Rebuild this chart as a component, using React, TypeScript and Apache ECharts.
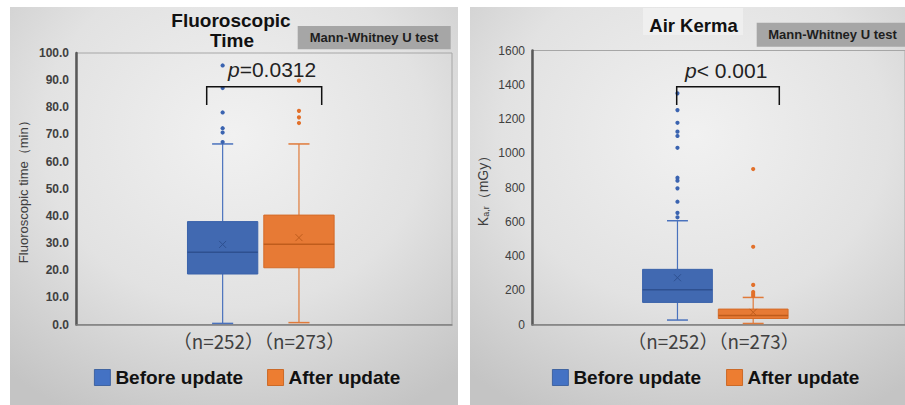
import React, { useEffect, useRef } from 'react';
import * as echarts from 'echarts';

// ---------- data ----------
const CATEGORIES = ['（n=252）（n=273）'];
const GROUPS = ['Before update', 'After update'];

// box stats: [min, Q1, median, Q3, max, mean]
const fluoroBefore = [0.4, 18.6, 26.6, 37.9, 66.5, 29.5];
const fluoroAfter = [0.7, 20.9, 29.6, 40.3, 66.5, 32.0];
const fluoroBeforeOutliers = [67.2, 70.7, 72.3, 78.1, 87.1, 95.4];
const fluoroAfterOutliers = [74.2, 76.3, 78.7, 89.8];

const kermaBefore = [26, 129, 203, 322, 606, 273];
const kermaAfter = [6, 35, 52, 90, 158, 71];
const kermaBeforeOutliers = [626, 652, 717, 795, 840, 857, 1032, 1101, 1126, 1178, 1252, 1350];
const kermaAfterOutliers = [167, 178, 190, 231, 454, 908];

const FLUORO_AXIS = { min: 0, max: 100, interval: 10 };
const KERMA_AXIS = { min: 0, max: 1600, interval: 200 };

const P_LEFT = '0.0312';
const P_RIGHT = '< 0.001';

// ---------- style ----------
const BOX_W = 0.187; // fraction of category band
const CAP_RATIO = 0.3;
const OFFSETS = [-0.11, 0.093];

const PAL = [
  { fill: '#4169B1', edge: '#3a62aa', dark: '#2E5090', whisker: '#4a72bd', dot: '#3a63b0', legend: '#4472C4', legendEdge: '#2f5597' },
  { fill: '#E77A35', edge: '#d46b29', dark: '#bf5c1c', whisker: '#e07a3a', dot: '#e2702a', legend: '#ED7D31', legendEdge: '#c55a11' },
];

function boxSeries(name: string, grid: number, stats: number[], idx: number) {
  const pal = PAL[idx];
  const off = OFFSETS[idx];
  return {
    type: 'custom',
    name,
    xAxisIndex: grid,
    yAxisIndex: grid,
    itemStyle: { color: pal.legend },
    encode: { x: 0, y: [1, 2, 3, 4, 5, 6] },
    data: [[CATEGORIES[0], ...stats]],
    z: 3,
    renderItem: (params: any, api: any) => {
      const band = params.coordSys.width / CATEGORIES.length;
      const cat = api.value(0);
      const cx = api.coord([cat, 0])[0] + band * off;
      const half = (band * BOX_W) / 2;
      const cap = half * CAP_RATIO;
      const y = (i: number) => api.coord([cat, api.value(i)])[1];
      const yMin = y(1), yQ1 = y(2), yMed = y(3), yQ3 = y(4), yMax = y(5), yMean = y(6);
      const ws = { stroke: pal.whisker, lineWidth: 1.2 };
      const m = 3.5;
      return {
        type: 'group',
        children: [
          { type: 'line', shape: { x1: cx, y1: yMax, x2: cx, y2: yQ3 }, style: ws },
          { type: 'line', shape: { x1: cx, y1: yQ1, x2: cx, y2: yMin }, style: ws },
          { type: 'line', shape: { x1: cx - cap, y1: yMax, x2: cx + cap, y2: yMax }, style: { stroke: pal.whisker, lineWidth: 1.5 } },
          { type: 'line', shape: { x1: cx - cap, y1: yMin, x2: cx + cap, y2: yMin }, style: { stroke: pal.whisker, lineWidth: 1.5 } },
          { type: 'rect', shape: { x: cx - half, y: yQ3, width: half * 2, height: yQ1 - yQ3 }, style: { fill: pal.fill, stroke: pal.edge, lineWidth: 1 } },
          { type: 'line', shape: { x1: cx - half, y1: yMed, x2: cx + half, y2: yMed }, style: { stroke: pal.dark, lineWidth: 1.5 } },
          { type: 'line', shape: { x1: cx - m, y1: yMean - m, x2: cx + m, y2: yMean + m }, style: { stroke: pal.dark, lineWidth: 1 } },
          { type: 'line', shape: { x1: cx - m, y1: yMean + m, x2: cx + m, y2: yMean - m }, style: { stroke: pal.dark, lineWidth: 1 } },
        ],
      };
    },
  };
}

function outlierSeries(name: string, grid: number, values: number[], idx: number) {
  const pal = PAL[idx];
  const off = OFFSETS[idx];
  return {
    type: 'custom',
    name,
    xAxisIndex: grid,
    yAxisIndex: grid,
    itemStyle: { color: pal.legend },
    encode: { x: 0, y: 1 },
    data: values.map((v) => [CATEGORIES[0], v]),
    z: 4,
    renderItem: (params: any, api: any) => {
      const band = params.coordSys.width / CATEGORIES.length;
      const p = api.coord([api.value(0), api.value(1)]);
      return {
        type: 'circle',
        shape: { cx: p[0] + band * off, cy: p[1], r: 2.1 },
        style: { fill: pal.dot },
      };
    },
  };
}

const FONT = "'Liberation Sans', Arial, sans-serif";

function xAxisCfg(grid: number) {
  return {
    gridIndex: grid,
    type: 'category',
    data: CATEGORIES,
    axisLine: { lineStyle: { color: '#7f7f7f', width: 1.5 } },
    axisTick: { show: false },
    axisLabel: { fontSize: 18.8, color: '#404040', fontFamily: "'Noto Sans CJK JP', sans-serif", margin: 7, padding: [0, 10, 0, 0] },
  };
}

export default function App() {
  const ref = useRef<HTMLDivElement>(null);
  useEffect(() => {
    if (!ref.current) return;
    const chart = echarts.init(ref.current, null, { renderer: 'svg' });
    const panelFill = () =>
      new echarts.graphic.RadialGradient(0.5, 0.32, 0.78, [
        { offset: 0, color: '#f1f1f1' },
        { offset: 0.55, color: '#e2e2e2' },
        { offset: 1, color: '#c4c4c4' },
      ]);
    const option: any = {
      animation: false,
      backgroundColor: '#ffffff',
      grid: [
        { left: 76, top: 53, width: 376, height: 271.5, show: true, borderColor: '#a6a6a6', borderWidth: 1, backgroundColor: 'transparent' },
        { left: 532, top: 50.5, width: 380, height: 274, show: true, borderColor: '#a6a6a6', borderWidth: 1, backgroundColor: 'transparent' },
      ],
      xAxis: [xAxisCfg(0), xAxisCfg(1)],
      yAxis: [
        {
          gridIndex: 0,
          type: 'value',
          ...FLUORO_AXIS,
          axisLine: { show: true, lineStyle: { color: '#595959', width: 2.5 } },
          axisTick: { show: false },
          splitLine: { show: false },
          axisLabel: { formatter: (v: number) => v.toFixed(1), fontSize: 12, fontWeight: 'bold', color: '#404040', margin: 7, fontFamily: FONT },
          name: 'Fluoroscopic time（min）',
          nameLocation: 'middle',
          nameGap: 46,
          nameTextStyle: { fontSize: 13, color: '#404040', fontFamily: FONT },
        },
        {
          gridIndex: 1,
          type: 'value',
          ...KERMA_AXIS,
          axisLine: { show: true, lineStyle: { color: '#595959', width: 2.5 } },
          axisTick: { show: false },
          splitLine: { show: false },
          axisLabel: { formatter: (v: number) => String(v), fontSize: 12, color: '#404040', margin: 7, fontFamily: FONT },
          name: 'K{sub|a,r}（mGy）',
          nameLocation: 'middle',
          nameGap: 42,
          nameTextStyle: {
            fontSize: 14,
            color: '#404040',
            fontFamily: FONT,
            rich: { sub: { fontSize: 9, color: '#404040', fontFamily: FONT, verticalAlign: 'bottom', padding: [6, 0, 0, 0] } },
          },
        },
      ],
      legend: [0, 1].map((g) => ({
        left: g === 0 ? 89 : 547,
        top: 363,
        itemWidth: 16,
        itemHeight: 16,
        itemGap: g === 0 ? 24 : 25,
        icon: 'rect',
        selectedMode: false,
        data: GROUPS.map((n, i) => ({ name: n, itemStyle: { borderColor: PAL[i].legendEdge, borderWidth: 0.8 } })),
        textStyle: { fontSize: 19, fontWeight: 'bold', color: '#111111', fontFamily: FONT, padding: [0, 0, 0, 0] },
      })),
      series: [
        boxSeries(GROUPS[0], 0, fluoroBefore, 0),
        boxSeries(GROUPS[1], 0, fluoroAfter, 1),
        outlierSeries(GROUPS[0], 0, fluoroBeforeOutliers, 0),
        outlierSeries(GROUPS[1], 0, fluoroAfterOutliers, 1),
        boxSeries(GROUPS[0], 1, kermaBefore, 0),
        boxSeries(GROUPS[1], 1, kermaAfter, 1),
        outlierSeries(GROUPS[0], 1, kermaBeforeOutliers, 0),
        outlierSeries(GROUPS[1], 1, kermaAfterOutliers, 1),
      ],
      graphic: [
        { type: 'rect', z: -10, shape: { x: 10, y: 7, width: 448, height: 400 }, style: { fill: panelFill() } },
        { type: 'rect', z: -10, shape: { x: 470, y: 7, width: 450, height: 400 }, style: { fill: panelFill() } },
        // titles
        { type: 'text', z: 10, x: 231, y: 20.5, style: { text: 'Fluoroscopic', font: `bold 19px ${FONT}`, fill: '#111111', align: 'center', verticalAlign: 'middle' } },
        { type: 'text', z: 10, x: 232, y: 40.5, style: { text: 'Time', font: `bold 19px ${FONT}`, fill: '#111111', align: 'center', verticalAlign: 'middle' } },
        { type: 'rect', z: -5, shape: { x: 643, y: 8, width: 100, height: 27 }, style: { fill: '#efefef' } },
        { type: 'text', z: 10, x: 693.5, y: 25, style: { text: 'Air Kerma', font: `bold 18.5px ${FONT}`, fill: '#111111', align: 'center', verticalAlign: 'middle' } },
        // test boxes
        { type: 'rect', z: 10, shape: { x: 297.7, y: 26, width: 153, height: 23.3 }, style: { fill: '#a6a6a6' } },
        { type: 'text', z: 11, x: 374, y: 37.8, style: { text: 'Mann-Whitney U test', font: `bold 13px ${FONT}`, fill: '#1e1e1e', align: 'center', verticalAlign: 'middle' } },
        { type: 'rect', z: 10, shape: { x: 756.7, y: 22.7, width: 160, height: 24 }, style: { fill: '#a6a6a6' } },
        { type: 'text', z: 11, x: 832.5, y: 34.8, style: { text: 'Mann-Whitney U test', font: `bold 13px ${FONT}`, fill: '#1e1e1e', align: 'center', verticalAlign: 'middle' } },
        // p-values
        {
          type: 'text', z: 10, x: 228, y: 69.5,
          style: { text: `{i|p}=${P_LEFT}`, font: `21px ${FONT}`, fill: '#222222', align: 'left', verticalAlign: 'middle', rich: { i: { fontStyle: 'italic', fontSize: 21, fontFamily: FONT, fill: '#222222' } } },
        },
        {
          type: 'text', z: 10, x: 685, y: 70,
          style: { text: `{i|p}${P_RIGHT}`, font: `21px ${FONT}`, fill: '#222222', align: 'left', verticalAlign: 'middle', rich: { i: { fontStyle: 'italic', fontSize: 21, fontFamily: FONT, fill: '#222222' } } },
        },
        // brackets
        { type: 'polyline', z: 10, shape: { points: [[206.7, 105], [206.7, 86.7], [321.7, 86.7], [321.7, 105]] }, style: { stroke: '#111111', lineWidth: 1.5, fill: 'none' } },
        { type: 'polyline', z: 10, shape: { points: [[676.7, 105], [676.7, 86.7], [779.3, 86.7], [779.3, 105]] }, style: { stroke: '#111111', lineWidth: 1.5, fill: 'none' } },
      ],
    };
    chart.setOption(option);
    return () => chart.dispose();
  }, []);
  return <div ref={ref} style={{ position: 'fixed', left: 0, top: 0, width: 905, height: 405, background: '#fff' }} />;
}
